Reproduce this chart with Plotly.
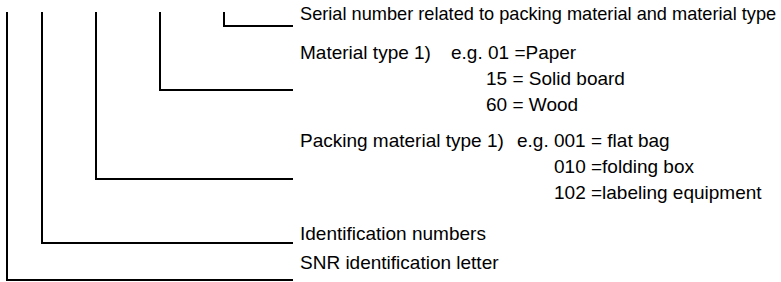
import plotly.graph_objects as go

# ---- content ----
field_labels = [
    "Serial number related to packing material and material type",
    "Material type 1)",
    "Packing material type 1)",
    "Identification numbers",
    "SNR identification letter",
]
material_codes = ["01", "15", "60"]
material_names = ["Paper", "Solid board", "Wood"]
packing_codes = ["001", "010", "102"]
packing_names = ["flat bag", "folding box", "labeling equipment"]

# ---- layout constants (pixels, y measured from top) ----
W, H = 781, 282
TOP = 12
LINE_END = 293
TEXT_X = 300
bracket_x = [224, 160, 96, 42, 7]
bracket_y = [26, 90, 179, 243, 280]
label_y = [14, 52, 140, 233, 262]
ROW = 26
FONT = dict(family="Liberation Sans, Arial, sans-serif", size=19, color="#000000")
FONT_SERIAL = dict(FONT, size=18.2)

fig = go.Figure()
for bx, by in zip(bracket_x, bracket_y):
    fig.add_trace(go.Scatter(
        x=[bx, bx, LINE_END], y=[TOP, by, by], mode="lines",
        line=dict(color="#000000", width=2), hoverinfo="skip", showlegend=False))

ann = []
def text(x, y, s, font=FONT):
    ann.append(dict(x=x, y=y, xref="x", yref="y", text=s, showarrow=False,
                    xanchor="left", yanchor="middle", font=font,
                    borderpad=0, borderwidth=0))

for i, (lbl, ly) in enumerate(zip(field_labels, label_y)):
    text(TEXT_X, ly, lbl, FONT_SERIAL if i == 0 else FONT)

# material examples
mat_eq = [" =", " = ", " = "]
text(451, label_y[1], "e.g. " + material_codes[0] + mat_eq[0] + material_names[0])
for i in (1, 2):
    text(486, label_y[1] + i * ROW, material_codes[i] + mat_eq[i] + material_names[i])

# packing examples
pack_eq = [" = ", " =", " ="]
text(517, label_y[2], "e.g. " + packing_codes[0] + pack_eq[0] + packing_names[0])
for i in (1, 2):
    text(554, label_y[2] + i * ROW, packing_codes[i] + pack_eq[i] + packing_names[i])

fig.update_layout(
    width=W, height=H, margin=dict(l=0, r=0, t=0, b=0),
    paper_bgcolor="#ffffff", plot_bgcolor="#ffffff",
    xaxis=dict(range=[0, W], visible=False, fixedrange=True),
    yaxis=dict(range=[H, 0], visible=False, fixedrange=True),
    annotations=ann,
)
fig.write_html("out.html", config={"displayModeBar": False},
               post_script="document.body.style.margin='0px';")
